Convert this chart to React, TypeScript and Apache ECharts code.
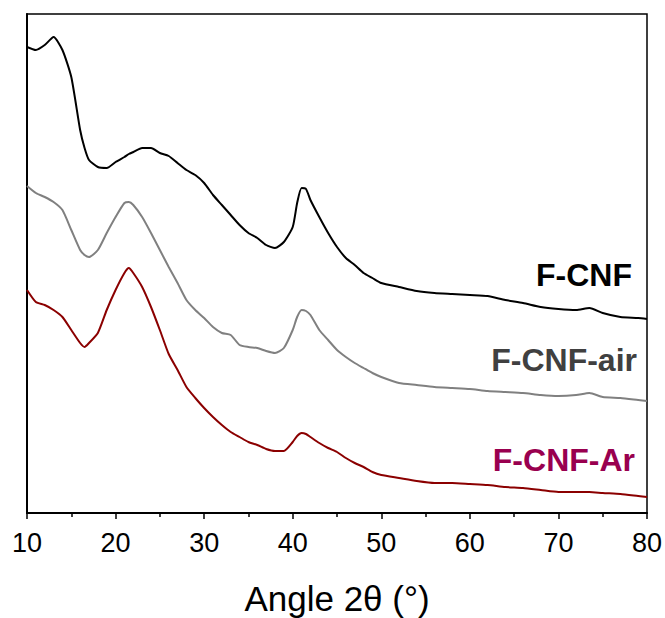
import React, { useEffect, useRef } from "react";
import * as echarts from "echarts";

const angles = [10, 11, 12, 13, 14, 15, 16, 16.5, 17, 18, 19, 20, 21, 21.5, 22, 23, 24, 25, 26, 27, 28, 29, 30, 31, 32, 33, 34, 35, 36, 37, 38, 39, 40, 40.5, 41, 41.5, 42, 43, 44, 45, 46, 47, 48, 49, 50, 52, 54, 56, 58, 60, 62, 64, 66, 68, 70, 72, 73.5, 75, 77, 79, 80];

const fcnf = [466, 463, 468, 476, 463, 436, 383, 365, 353, 346, 345, 351, 356, 359, 361, 365, 365, 360, 357, 350, 343, 338, 330, 318, 308, 298, 288, 280, 275, 268, 265, 271, 286, 310, 325, 324, 313, 296, 280, 266, 255, 248, 240, 235, 230, 226, 222, 220, 219, 218, 217, 213, 210, 206, 204, 203, 205, 200, 196, 195, 194];

const fcnfAir = [327, 320, 316, 311, 303, 283, 263, 258, 256, 263, 280, 296, 310, 311, 308, 296, 280, 263, 246, 230, 213, 203, 195, 186, 180, 178, 168, 166, 165, 162, 160, 165, 183, 196, 203, 202, 198, 183, 173, 163, 156, 150, 145, 140, 136, 130, 128, 126, 125, 124, 122, 121, 120, 118, 117, 118, 120, 116, 115, 113, 112];

const fcnfAr = [223, 211, 208, 203, 196, 183, 170, 166, 170, 180, 203, 223, 240, 245, 240, 226, 206, 183, 159, 143, 126, 115, 105, 96, 88, 81, 76, 71, 68, 64, 62, 62, 71, 77, 80, 79, 76, 70, 65, 61, 55, 50, 46, 41, 38, 35, 32, 30, 30, 29, 28, 26, 25, 23, 21, 21, 21, 20, 19, 17, 16];

const seriesNames = ["F-CNF", "F-CNF-air", "F-CNF-Ar"];
const lineColors = ["#000000", "#808080", "#8b0000"];
const labelColors = ["#000000", "#404040", "#99004f"];

const pairs = (ys: number[]) => angles.map((a, i) => [a, ys[i]]);

export default function App() {
  const ref = useRef<HTMLDivElement>(null);
  useEffect(() => {
    if (!ref.current) return;
    const chart = echarts.init(ref.current, null, { renderer: "svg" });
    const font = "'Liberation Sans', Arial, sans-serif";
    const data = [fcnf, fcnfAir, fcnfAr];
    chart.setOption({
      animation: false,
      grid: {
        left: 27,
        right: 18,
        top: 14,
        bottom: 105,
        outerBoundsMode: "none",
        containLabel: false,
        show: true,
        borderColor: "#000",
        borderWidth: 1.5,
        backgroundColor: "transparent",
      },
      xAxis: {
        type: "value",
        min: 10,
        max: 80,
        interval: 10,
        name: "Angle 2θ (°)",
        nameLocation: "middle",
        nameGap: 66,
        nameTextStyle: { fontFamily: font, fontSize: 35, color: "#000", lineHeight: 38 },
        axisLine: { show: true, lineStyle: { color: "#000", width: 2 } },
        axisTick: { show: true, length: 6, lineStyle: { color: "#000", width: 1.5 } },
        minorTick: { show: true, splitNumber: 2, length: 4, lineStyle: { color: "#000", width: 1.5 } },
        splitLine: { show: false },
        axisLabel: { fontFamily: font, fontSize: 27, color: "#000", margin: 16 },
      },
      yAxis: {
        type: "value",
        min: 0,
        max: 499,
        axisLine: { show: true, lineStyle: { color: "#000", width: 2 } },
        axisTick: { show: false },
        axisLabel: { show: false },
        splitLine: { show: false },
      },
      series: data.map((ys, i) => ({
        name: seriesNames[i],
        type: "line",
        data: pairs(ys),
        showSymbol: false,
        smooth: 0.2,
        lineStyle: { color: lineColors[i], width: 2 },
      })),
      graphic: [
        { type: "text", x: 632, y: 275, style: { text: seriesNames[0], fill: labelColors[0], font: `bold 32px ${font}`, textAlign: "right", textVerticalAlign: "middle" } },
        { type: "text", x: 637, y: 360, style: { text: seriesNames[1], fill: labelColors[1], font: `bold 32px ${font}`, textAlign: "right", textVerticalAlign: "middle" } },
        { type: "text", x: 635, y: 460, style: { text: seriesNames[2], fill: labelColors[2], font: `bold 32px ${font}`, textAlign: "right", textVerticalAlign: "middle" } },
      ],
    });
    return () => chart.dispose();
  }, []);
  return <div ref={ref} style={{ width: 665, height: 618, position: "absolute", left: 0, top: 0 }} />;
}
